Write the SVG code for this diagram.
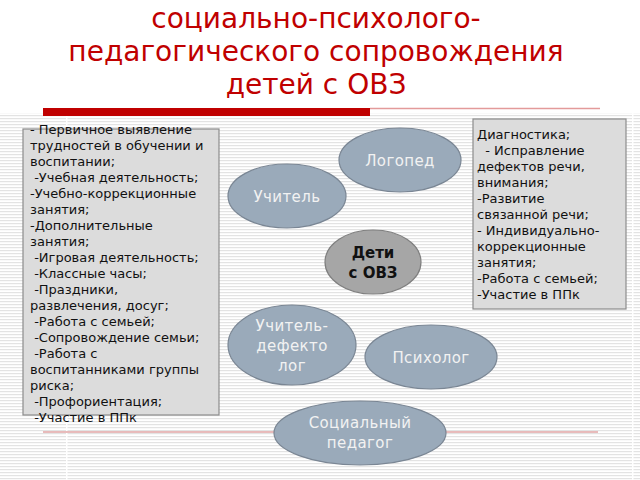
<svg xmlns="http://www.w3.org/2000/svg" width="640" height="480" viewBox="0 0 640 480">
<defs>
<pattern id="stripes" x="0" y="0" width="8" height="3" patternUnits="userSpaceOnUse">
<rect width="8" height="3" fill="#ffffff"/>
<rect y="1" width="8" height="1.2" fill="#e3e3e3"/>
</pattern>
</defs>
<style>
.title{font-family:"DejaVu Sans",sans-serif;font-size:28px;fill:#c00000;text-anchor:middle}
.box{fill:#dcdcdc;stroke:#8c8c8c;stroke-width:1.2}
.btxt{font-family:"DejaVu Sans",sans-serif;font-size:13px;fill:#111111}
.ell{fill:#9aaaba;stroke:#7a8694;stroke-width:1.2}
.etxt{font-family:"DejaVu Sans",sans-serif;font-size:15px;fill:#f2f2f2;text-anchor:middle;letter-spacing:0.4px}
.center{fill:#a6a6a6;stroke:#7f7f7f;stroke-width:1.2}
.ctxt{font-family:"DejaVu Sans",sans-serif;font-size:15px;font-weight:bold;fill:#111111;text-anchor:middle}
</style>
<rect width="640" height="480" fill="#ffffff"/>
<rect x="0" y="113" width="640" height="367" fill="url(#stripes)"/>
<rect x="66" y="113" width="1.5" height="367" fill="#ffffff"/>
<rect x="632" y="113" width="1.5" height="367" fill="#ffffff"/>
<g id="title">
<text class="title" x="316" y="28">социально-психолого-</text>
<text class="title" x="316" y="61">педагогического сопровождения</text>
<text class="title" x="316" y="94">детей с ОВЗ</text>
</g>
<g id="rules">
<line x1="370" y1="108.5" x2="600" y2="108.5" stroke="#e39a9a" stroke-width="1.5"/>
<rect x="43" y="108" width="327" height="8" fill="#c00000"/>
<line x1="43" y1="432" x2="598" y2="432" stroke="#e0a4a4" stroke-width="1.5"/>
</g>
<g id="left-box">
<rect class="box" x="23" y="129" width="196" height="286"/>
<text class="btxt" x="30" y="134">- Первичное выявление</text>
<text class="btxt" x="30" y="150">трудностей в обучении и</text>
<text class="btxt" x="30" y="166">воспитании;</text>
<text class="btxt" x="30" y="182" xml:space="preserve"> -Учебная деятельность;</text>
<text class="btxt" x="30" y="198">-Учебно-коррекционные</text>
<text class="btxt" x="30" y="214">занятия;</text>
<text class="btxt" x="30" y="230">-Дополнительные</text>
<text class="btxt" x="30" y="246">занятия;</text>
<text class="btxt" x="30" y="262" xml:space="preserve"> -Игровая деятельность;</text>
<text class="btxt" x="30" y="278" xml:space="preserve"> -Классные часы;</text>
<text class="btxt" x="30" y="294" xml:space="preserve"> -Праздники,</text>
<text class="btxt" x="30" y="310">развлечения, досуг;</text>
<text class="btxt" x="30" y="326" xml:space="preserve"> -Работа с семьей;</text>
<text class="btxt" x="30" y="342" xml:space="preserve"> -Сопровождение семьи;</text>
<text class="btxt" x="30" y="358" xml:space="preserve"> -Работа с</text>
<text class="btxt" x="30" y="374">воспитанниками группы</text>
<text class="btxt" x="30" y="390">риска;</text>
<text class="btxt" x="30" y="406" xml:space="preserve"> -Профориентация;</text>
<text class="btxt" x="30" y="422" xml:space="preserve"> -Участие в ППк</text>
</g>
<g id="right-box">
<rect class="box" x="473" y="119" width="153" height="190"/>
<text class="btxt" x="477" y="139">Диагностика;</text>
<text class="btxt" x="477" y="155" xml:space="preserve">  - Исправление</text>
<text class="btxt" x="477" y="171">дефектов речи,</text>
<text class="btxt" x="477" y="187">внимания;</text>
<text class="btxt" x="477" y="203">-Развитие</text>
<text class="btxt" x="477" y="219">связанной речи;</text>
<text class="btxt" x="477" y="235">- Индивидуально-</text>
<text class="btxt" x="477" y="251">коррекционные</text>
<text class="btxt" x="477" y="267">занятия;</text>
<text class="btxt" x="477" y="283">-Работа с семьей;</text>
<text class="btxt" x="477" y="299">-Участие в ППк</text>
</g>
<g id="logoped">
<ellipse class="ell" cx="400" cy="160" rx="61" ry="32"/>
<text class="etxt" x="400" y="166">Логопед</text>
</g>
<g id="uchitel">
<ellipse class="ell" cx="287" cy="196" rx="59" ry="32"/>
<text class="etxt" x="287" y="202">Учитель</text>
</g>
<g id="deti">
<ellipse class="center" cx="373" cy="262" rx="48" ry="32"/>
<text class="ctxt" x="373" y="258">Дети</text>
<text class="ctxt" x="373" y="278">с ОВЗ</text>
</g>
<g id="defektolog">
<ellipse class="ell" cx="292" cy="345" rx="64" ry="40"/>
<text class="etxt" x="292" y="331">Учитель-</text>
<text class="etxt" x="292" y="351">дефекто</text>
<text class="etxt" x="292" y="371">лог</text>
</g>
<g id="psiholog">
<ellipse class="ell" cx="431" cy="357" rx="66" ry="32"/>
<text class="etxt" x="431" y="363">Психолог</text>
</g>
<g id="socped">
<ellipse class="ell" cx="360" cy="433" rx="86" ry="32"/>
<text class="etxt" x="360" y="428">Социальный</text>
<text class="etxt" x="360" y="448">педагог</text>
</g>
<g id="connectors"></g>
</svg>
